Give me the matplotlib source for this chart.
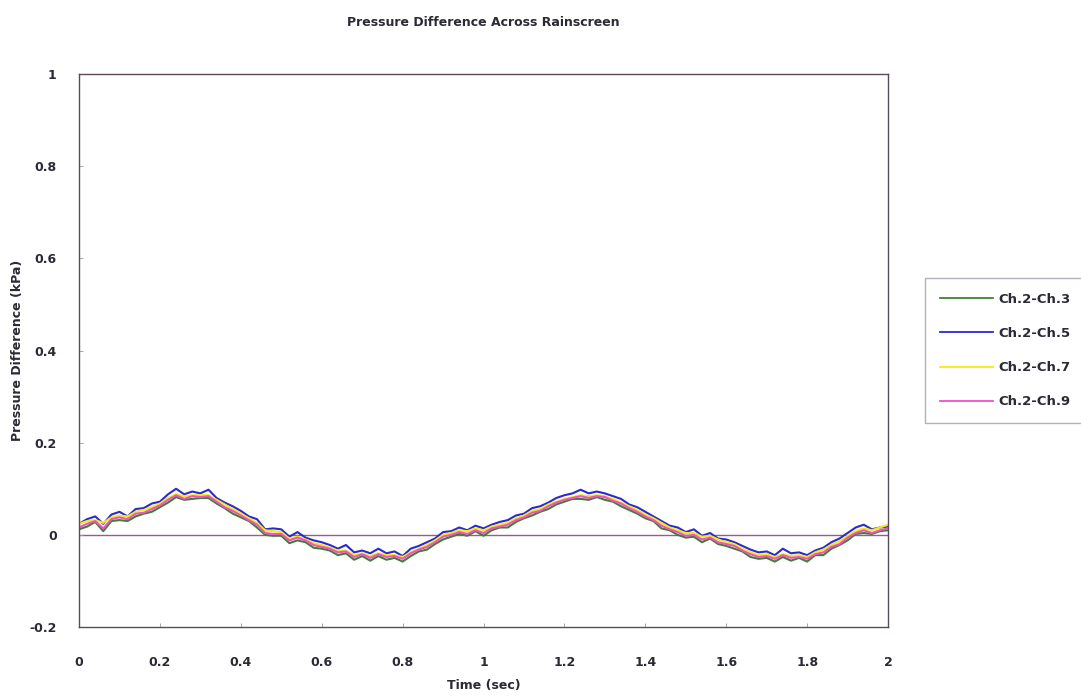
import numpy as np
import matplotlib
matplotlib.use("Agg")
import matplotlib.pyplot as plt
from matplotlib.ticker import FuncFormatter

# pressure difference traces (kPa), sampled every 0.02 s from 0 to 2 s
ch2_ch3 = [0.012, 0.018, 0.028, 0.008, 0.030, 0.032, 0.030, 0.040, 0.046, 0.050,
           0.060, 0.070, 0.082, 0.076, 0.078, 0.080, 0.080, 0.068, 0.058, 0.046,
           0.038, 0.030, 0.016, 0.000, -0.002, -0.002, -0.018, -0.012, -0.016, -0.028,
           -0.030, -0.034, -0.044, -0.040, -0.054, -0.046, -0.056, -0.046, -0.054, -0.050,
           -0.058, -0.046, -0.036, -0.032, -0.020, -0.010, -0.004, 0.002, -0.002, 0.008,
           -0.002, 0.010, 0.016, 0.016, 0.028, 0.036, 0.042, 0.050, 0.056, 0.066,
           0.072, 0.078, 0.078, 0.076, 0.082, 0.076, 0.072, 0.062, 0.054, 0.046,
           0.036, 0.030, 0.014, 0.010, 0.000, -0.006, -0.004, -0.016, -0.008, -0.020,
           -0.024, -0.030, -0.036, -0.048, -0.052, -0.050, -0.058, -0.048, -0.056, -0.050,
           -0.058, -0.044, -0.044, -0.030, -0.022, -0.012, 0.002, 0.004, 0.002, 0.008,
           0.010]
ch2_ch5 = [0.024, 0.034, 0.040, 0.024, 0.044, 0.050, 0.040, 0.056, 0.058, 0.068,
           0.072, 0.088, 0.100, 0.088, 0.094, 0.090, 0.098, 0.080, 0.070, 0.062,
           0.052, 0.040, 0.034, 0.012, 0.014, 0.012, -0.004, 0.006, -0.006, -0.012,
           -0.016, -0.022, -0.030, -0.022, -0.038, -0.034, -0.040, -0.030, -0.040, -0.036,
           -0.046, -0.030, -0.024, -0.016, -0.008, 0.006, 0.008, 0.016, 0.010, 0.020,
           0.014, 0.022, 0.028, 0.032, 0.042, 0.046, 0.058, 0.062, 0.070, 0.080,
           0.086, 0.090, 0.098, 0.090, 0.094, 0.090, 0.084, 0.078, 0.066, 0.060,
           0.050, 0.040, 0.030, 0.020, 0.016, 0.006, 0.012, -0.002, 0.004, -0.008,
           -0.010, -0.016, -0.024, -0.032, -0.038, -0.036, -0.044, -0.030, -0.040, -0.038,
           -0.044, -0.034, -0.028, -0.016, -0.008, 0.004, 0.016, 0.022, 0.012, 0.016,
           0.018]
ch2_ch7 = [0.024, 0.030, 0.032, 0.026, 0.038, 0.042, 0.040, 0.050, 0.054, 0.060,
           0.068, 0.080, 0.088, 0.084, 0.086, 0.086, 0.086, 0.076, 0.066, 0.056,
           0.046, 0.036, 0.026, 0.010, 0.008, 0.006, -0.008, -0.004, -0.010, -0.018,
           -0.022, -0.028, -0.034, -0.034, -0.044, -0.040, -0.046, -0.040, -0.044, -0.044,
           -0.048, -0.038, -0.030, -0.022, -0.012, 0.000, 0.004, 0.010, 0.008, 0.014,
           0.010, 0.018, 0.022, 0.026, 0.036, 0.042, 0.052, 0.056, 0.066, 0.072,
           0.078, 0.082, 0.086, 0.084, 0.086, 0.084, 0.078, 0.070, 0.062, 0.054,
           0.044, 0.036, 0.026, 0.016, 0.010, 0.004, 0.004, -0.004, -0.002, -0.010,
           -0.016, -0.020, -0.030, -0.038, -0.044, -0.042, -0.048, -0.042, -0.046, -0.044,
           -0.048, -0.038, -0.032, -0.022, -0.014, -0.002, 0.008, 0.014, 0.010, 0.016,
           0.022]
ch2_ch9 = [0.016, 0.024, 0.030, 0.014, 0.034, 0.038, 0.034, 0.046, 0.048, 0.056,
           0.064, 0.076, 0.086, 0.078, 0.084, 0.082, 0.084, 0.072, 0.060, 0.052,
           0.042, 0.032, 0.022, 0.004, 0.002, 0.002, -0.012, -0.006, -0.012, -0.022,
           -0.026, -0.030, -0.038, -0.036, -0.048, -0.042, -0.050, -0.042, -0.048, -0.046,
           -0.052, -0.040, -0.032, -0.026, -0.016, -0.004, 0.000, 0.006, 0.002, 0.010,
           0.004, 0.014, 0.018, 0.022, 0.032, 0.038, 0.048, 0.052, 0.062, 0.070,
           0.076, 0.080, 0.084, 0.080, 0.084, 0.082, 0.074, 0.068, 0.058, 0.050,
           0.040, 0.032, 0.020, 0.012, 0.006, -0.002, 0.000, -0.010, -0.006, -0.016,
           -0.020, -0.024, -0.034, -0.042, -0.048, -0.046, -0.052, -0.044, -0.050, -0.048,
           -0.052, -0.042, -0.038, -0.026, -0.020, -0.006, 0.004, 0.010, 0.004, 0.010,
           0.014]

labels = ["Ch.2-Ch.3", "Ch.2-Ch.5", "Ch.2-Ch.7", "Ch.2-Ch.9"]
colors = ["#3f7f3a", "#2a2ad0", "#f4ec10", "#f050c8"]

plt.rcParams["font.family"] = "DejaVu Sans"
plt.rcParams["font.weight"] = "bold"
txt = "#2a2a35"

fig = plt.figure(figsize=(10.81, 6.97), dpi=100)
ax = fig.add_axes([0.0731, 0.1004, 0.7484, 0.7934])

series = [ch2_ch3, ch2_ch5, ch2_ch7, ch2_ch9]
handles = []
for vals, lab, col in zip(series, labels, colors):
    t = np.linspace(0, 2, len(vals))
    h, = ax.plot(t, vals, color=col, lw=1.5, label=lab)
    handles.append(h)

# zero reference line
ax.axhline(0, color="#9a5a8a", lw=1.0, zorder=0)

ax.set_xlim(0, 2)
ax.set_ylim(-0.2, 1)
ax.set_xticks(np.arange(0, 2.01, 0.2))
ax.set_yticks(np.arange(-0.2, 1.01, 0.2))
fmt = FuncFormatter(lambda v, p: f"{round(v, 1):g}")
ax.xaxis.set_major_formatter(fmt)
ax.yaxis.set_major_formatter(fmt)
ax.tick_params(direction="in", length=3, width=0.6, color="#999999",
               labelsize=9, labelcolor=txt)
ax.tick_params(axis="x", pad=21)
ax.tick_params(axis="y", pad=16)
for s in ax.spines.values():
    s.set_color("#5a4a5a")
    s.set_linewidth(1.0)

fig.text(0.4475, 0.968, "Pressure Difference Across Rainscreen",
         ha="center", va="center", fontsize=9, color=txt)
fig.text(0.4475, 0.017, "Time (sec)", ha="center", va="center",
         fontsize=9, color=txt)
fig.text(0.016, 0.497, "Pressure Difference (kPa)", ha="center", va="center",
         rotation=90, fontsize=9, color=txt)

leg = fig.legend(handles=handles, loc="center left",
                 bbox_to_anchor=(0.856, 0.497), frameon=True, fancybox=False,
                 edgecolor="#a898a8", fontsize=9.5, handlelength=4.0,
                 handletextpad=0.4, labelspacing=1.6, borderpad=1.1,
                 borderaxespad=0)
leg.get_frame().set_linewidth(1.0)
for t_ in leg.get_texts():
    t_.set_color(txt)
for ln in leg.get_lines():
    ln.set_linewidth(1.3)

fig.savefig("out.png", dpi=100)
